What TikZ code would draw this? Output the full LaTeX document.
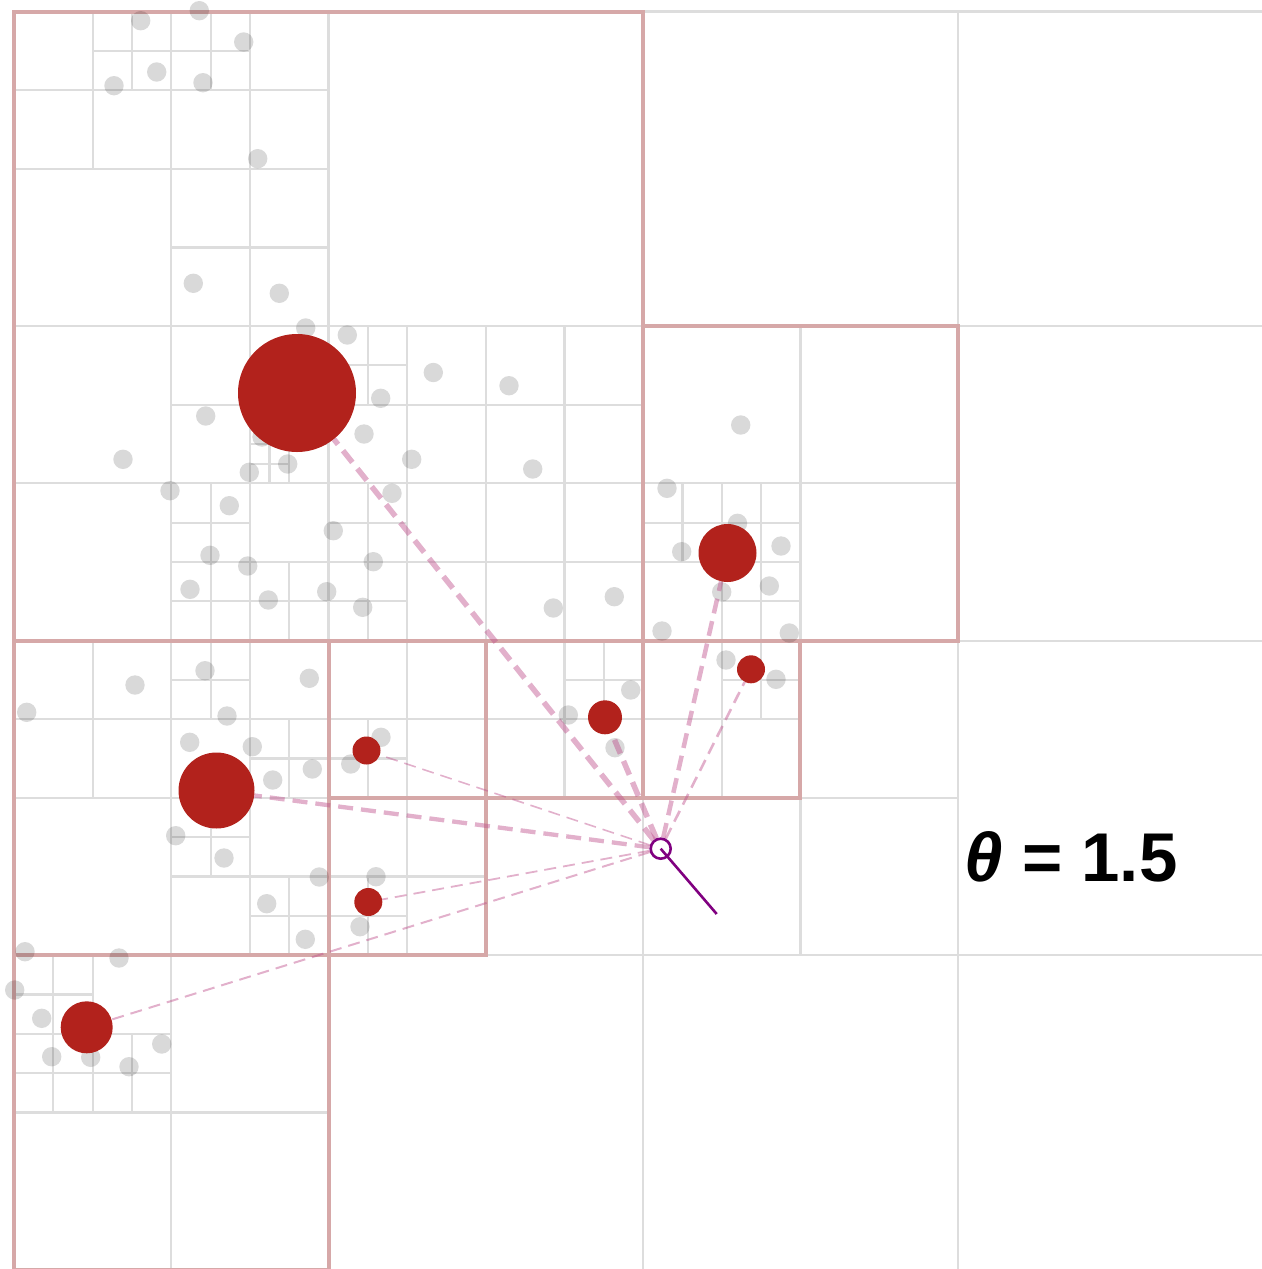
\documentclass[tikz,border=0pt]{standalone}
\usepackage{fontspec}
\newfontfamily\thetafont{Liberation Sans}
\usetikzlibrary{positioning}
\definecolor{gridgray}{RGB}{221,221,221}
\definecolor{cellpink}{RGB}{214,168,168}
\definecolor{pullpink}{RGB}{190,80,140}
\definecolor{massred}{RGB}{178,34,28}
\definecolor{bodypurple}{RGB}{128,0,128}
\pgfdeclarelayer{front}
\pgfsetlayers{main,front}
\tikzset{
  qline/.style={draw=gridgray, line width=2.2pt},
  cell/.style={draw=cellpink, line width=4pt},
  particle/.style={fill=black, fill opacity=0.15},
  com/.style={circle, fill=massred, inner sep=0pt},
  body/.style={circle, draw=bodypurple, fill=white, line width=2.6pt,
               minimum size=20pt, inner sep=0pt},
  vel/.style={draw=bodypurple, line width=2.6pt},
  pull/.style={draw=pullpink, draw opacity=0.45, dash pattern=on 15pt off 8pt},
  thinpull/.style={pull, dash pattern=on 12pt off 7pt},
  note/.style={inner sep=0pt, font=\thetafont\bfseries\fontsize{69}{69}\selectfont},
}
\newcommand\qsplit[3]{\draw[qline] ({#1+#3/2},#2) -- ++(0,#3) (#1,{#2+#3/2}) -- ++(#3,0);}

\begin{document}
\begin{tikzpicture}[x=1pt, y=-1pt]
  \useasboundingbox (0,0) rectangle (1261,1269);
  \begin{scope}[shift={(14,11.5)}, x=19.66pt, y=-19.66pt]
    \draw[qline] (0,0) rectangle (64,64);
    \foreach \a/\b/\s in {0/0/64, 0/0/32, 32/0/32, 0/32/32, 32/32/32,
        0/0/16, 0/16/16, 16/16/16, 32/16/16, 0/32/16, 16/32/16, 0/48/16, 32/32/16,
        0/0/8, 8/0/8, 8/8/8, 8/16/8, 8/24/8, 16/16/8, 24/16/8, 16/24/8, 24/24/8, 32/24/8,
        0/32/8, 8/32/8, 8/40/8, 16/32/8, 24/32/8, 16/40/8, 0/48/8, 32/32/8,
        4/0/4, 8/0/4, 12/20/4, 8/24/4, 8/28/4, 12/28/4, 16/16/4, 16/24/4, 16/28/4,
        32/24/4, 36/24/4, 36/28/4, 8/32/4, 12/36/4, 8/40/4, 12/44/4, 16/36/4, 28/32/4,
        16/44/4, 0/48/4, 0/52/4, 4/52/4, 36/32/4,
        12/20/2, 12/22/2}
      \qsplit{\a}{\b}{\s}
    \foreach \a/\b/\s in {0/0/32, 32/16/16, 0/32/16, 0/48/16, 16/32/8, 16/40/8, 24/32/8, 32/32/8}
      \draw[cell] (\a,\b) rectangle +(\s,\s);
  \end{scope}

  \foreach \x/\y in {140.7/20.7, 199.3/10.7, 243.7/42, 156.7/72, 114/85.7, 203/82.7,
      257.7/158.7, 193.3/283.3, 279.3/293.3, 305.7/328, 347.3/335, 380.7/398.3,
      364/434, 205.7/416, 287.7/464, 262/437, 249.3/472.3, 170/490.7, 229.3/505.7,
      392/493.3, 333.3/530.7, 210/555.3, 247.7/566, 373.3/561.7, 190/589.3,
      268.3/600, 326.7/591.7, 362.7/607.3, 411.7/459.3, 433.3/372.5, 509/385.7,
      532.7/469, 553.3/608, 614.3/596.7, 123/459.3,
      740.7/425, 667/488.3, 737.5/523.3, 681.7/551.7, 781/546, 721.7/592,
      769.3/586, 662/631, 789.3/633, 726/660, 776/679.3,
      381/737.3, 350.7/764, 568.3/715, 630.7/690, 615/747.7, 376/876.7, 360/926.7,
      205/670.7, 135/685, 26.7/712.3, 227/716, 189.7/742.3, 252.3/746.7,
      309.3/678.3, 312.3/769, 272.7/780, 175.7/835.7, 224/858, 319.3/877,
      266.7/903.7, 305.3/939.3, 25/951.7, 119/958,
      14.7/990, 41.7/1018.3, 51.7/1056.7, 90.7/1057.3, 129/1066.7, 161.7/1044}
    \fill[particle] (\x,\y) circle (9.7);

  \begin{pgfonlayer}{front}
    \node[com, minimum size=118pt] (c1) at (297,393) {};
    \node[com, minimum size=58pt] (c2) at (727.5,553) {};
    \node[com, minimum size=76pt] (c3) at (216.5,790.5) {};
    \node[com, minimum size=52pt] (c4) at (86.7,1027.3) {};
    \node[com, minimum size=28pt] (c5) at (366.5,750.5) {};
    \node[com, minimum size=28pt] (c6) at (368.3,902) {};
    \node[com, minimum size=34pt] (c7) at (605,717.3) {};
    \node[com, minimum size=28pt] (c8) at (751,669.3) {};
    \node[body] (b) at (660.7,848.7) {};
    \coordinate (v) at (716.7,914);
    \draw[vel] (b.center) -- (v);
  \end{pgfonlayer}

  \draw[pull, line width=5.5pt] (b) -- (c1);
  \draw[pull, line width=4.5pt] (b) -- (c2);
  \draw[pull, line width=4.3pt] (b) -- (c3);
  \draw[thinpull, line width=2pt] (b) -- (c4);
  \draw[thinpull, line width=1.6pt] (b) -- (c5);
  \draw[thinpull, line width=1.8pt] (b) -- (c6);
  \draw[pull, line width=5.5pt] (b) -- (c7);
  \draw[thinpull, line width=2.6pt] (b) -- (c8);

  \node[note] (theta) at (1071,857) {\textit{θ} = 1.5};
\end{tikzpicture}
\end{document}
